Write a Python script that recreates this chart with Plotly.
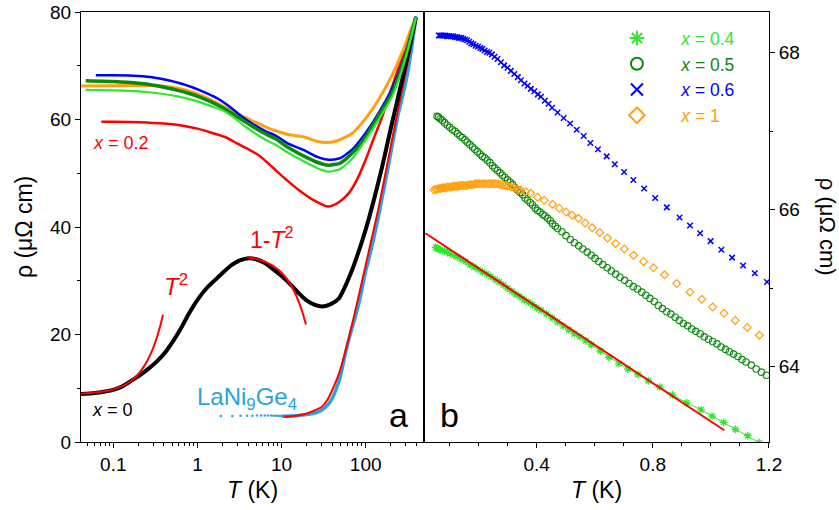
import plotly.graph_objects as go

# ---------------- panel a : rho(T), logarithmic temperature axis ----------------
T_x0 = [0.04, 0.06, 0.08, 0.1, 0.13, 0.168, 0.21, 0.265, 0.33, 0.42, 0.52, 0.66, 0.82, 1.04, 1.3,
        1.64, 2.0, 2.59, 3.2, 4.1, 5.0, 6.5, 8.0, 10.2, 13, 16, 20, 25, 30, 38, 48, 58, 69, 80,
        100, 125, 157, 200, 265, 330, 395]
rho_x0 = [8.9, 9.1, 9.4, 9.7, 10.4, 11.5, 12.5, 13.7, 15.0, 16.8, 18.9, 21.6, 24.3, 26.8, 28.7,
          30.2, 31.5, 33.0, 33.8, 34.2, 34.0, 33.2, 32.1, 30.8, 29.2, 27.7, 26.3, 25.5, 25.2, 25.6,
          26.7, 29.2, 32.0, 34.8, 39.5, 45.0, 51.2, 58.5, 66.7, 73.2, 79.0]

T_x02 = [0.072, 0.1, 0.2, 0.4, 0.7, 1.0, 1.5, 2.16, 3.0, 4.0, 5.4, 7.7, 11, 16, 24, 36, 48, 63,
         80, 100, 125, 157, 200, 248, 320, 395]
rho_x02 = [59.6, 59.58, 59.5, 59.25, 58.8, 58.3, 57.5, 56.7, 55.5, 54.5, 53.3, 51.2, 49.0, 46.9,
           45.0, 43.8, 44.6, 46.3, 49.0, 52.5, 56.5, 60.5, 65.5, 69.8, 75.0, 79.0]

T_x04 = [0.047, 0.1, 0.2, 0.4, 0.6, 0.8, 1.0, 1.2, 1.5, 2.0, 2.8, 3.7, 5.0, 6.5, 8.5, 12, 19, 27,
         36, 50, 70, 100, 140, 207, 280, 340, 395]
rho_x04 = [65.5, 65.42, 65.24, 64.75, 64.27, 63.8, 63.38, 62.95, 62.4, 61.7, 60.2, 58.7, 57.3,
           56.2, 55.3, 53.8, 52.1, 50.9, 50.3, 50.8, 52.8, 56.2, 59.8, 64.3, 70.0, 74.8, 79.0]

T_x05 = [0.047, 0.1, 0.2, 0.3, 0.4, 0.6, 0.8, 1.0, 1.2, 1.5, 2.0, 2.8, 3.7, 5.0, 6.5, 8.5, 12, 19,
         27, 36, 50, 70, 100, 140, 207, 280, 340, 395]
rho_x05 = [67.2, 67.05, 66.73, 66.38, 66.0, 65.38, 64.83, 64.33, 63.85, 63.2, 62.2, 60.8, 59.6,
           58.3, 57.3, 56.4, 54.8, 53.1, 52.0, 51.5, 51.9, 53.8, 56.8, 60.5, 65.0, 70.5, 75.0, 79.0]

T_x06 = [0.062, 0.1, 0.15, 0.2, 0.3, 0.45, 0.65, 0.9, 1.2, 1.6, 2.0, 2.6, 3.4, 4.5, 6.5, 8.5, 12,
         19, 27, 36, 50, 70, 100, 140, 207, 280, 340, 395]
rho_x06 = [68.22, 68.21, 68.18, 68.08, 67.8, 67.3, 66.65, 65.9, 65.1, 64.2, 63.3, 62.0, 60.5, 59.2,
           57.8, 57.0, 55.5, 54.2, 53.0, 52.5, 52.8, 54.5, 57.5, 61.0, 65.8, 71.0, 75.5, 79.2]

T_x1 = [0.041, 0.1, 0.22, 0.3, 0.4, 0.6, 0.8, 1.0, 1.3, 1.6, 2.0, 2.8, 3.7, 5.0, 6.5, 8.5, 12,
        19, 27, 33, 45, 69, 100, 140, 207, 280, 340, 395]
rho_x1 = [66.25, 66.29, 66.33, 66.31, 66.17, 65.75, 65.26, 64.78, 64.0, 63.3, 62.5, 61.3, 60.4,
          59.4, 58.6, 57.9, 57.2, 56.7, 55.9, 55.7, 56.0, 57.4, 60.2, 63.5, 68.3, 73.0, 76.5, 79.0]

# LaNi9Ge4: sparse low-T points, then the continuous high-T curve
T_lani_pts = [1.9, 2.6, 3.25, 3.9, 4.5, 5.1, 5.7, 6.3, 6.9, 7.5, 8.0, 8.5, 9.0, 9.5, 10.0]
rho_lani_pts = [4.85, 4.85, 4.9, 4.9, 4.9, 4.95, 4.95, 4.95, 4.95, 4.95, 4.9, 4.9, 4.9, 4.85, 4.85]
T_lani = [10, 15, 20, 25, 30, 35, 40, 45, 50, 57.5, 65, 75, 85, 100, 115, 140, 185, 240, 300, 350, 395]
rho_lani = [4.8, 4.9, 5.1, 5.4, 5.9, 6.8, 8.1, 10.0, 12.2, 16.5, 19.8, 23.2, 26.5, 31.8, 35.5, 41.5,
            51.2, 60.5, 67.0, 73.0, 79.0]

# fits drawn in red
T_fit_lani = [10.7, 15, 20, 25, 30, 35, 41, 45, 50, 57, 70.5, 85, 109, 140, 177, 230, 280, 340, 395]
rho_fit_lani = [4.7, 4.9, 5.3, 5.9, 6.5, 7.8, 10.0, 11.5, 13.5, 16.7, 22.5, 28.0, 35.5, 43.0, 51.0,
                60.0, 66.7, 73.0, 79.0]
T_fit_sq = [0.04, 0.08, 0.12, 0.16, 0.2, 0.24, 0.28, 0.32, 0.36, 0.39]
rho_fit_sq = [8.96, 9.43, 10.21, 11.31, 12.72, 14.44, 16.48, 18.84, 21.5, 23.7]
T_fit_1m = [3.9, 5, 6, 7, 8, 10, 12, 14, 16, 18, 19.5]
rho_fit_1m = [34.4, 34.06, 33.68, 33.23, 32.72, 31.48, 29.97, 28.18, 26.11, 23.77, 21.84]

# ---------------- panel b : rho(T), linear temperature axis ----------------
Tb_x04 = [0.052, 0.057, 0.062, 0.068, 0.075, 0.083, 0.092, 0.102, 0.114, 0.127, 0.140, 0.155, 0.170,
          0.184, 0.198, 0.213, 0.228, 0.242, 0.257, 0.271, 0.286, 0.300, 0.315, 0.329, 0.343, 0.357,
          0.372, 0.386, 0.400, 0.415, 0.434, 0.453, 0.472, 0.491, 0.511, 0.530, 0.549, 0.569, 0.588,
          0.620, 0.649, 0.683, 0.714, 0.749, 0.785, 0.824, 0.868, 0.916, 0.966, 1.004, 1.044, 1.084,
          1.127, 1.167]
rhob_x04 = [65.52, 65.51, 65.50, 65.49, 65.48, 65.47, 65.46, 65.44, 65.42, 65.40, 65.37, 65.34, 65.30,
            65.27, 65.24, 65.21, 65.18, 65.15, 65.11, 65.08, 65.04, 65.00, 64.96, 64.92, 64.89, 64.85,
            64.82, 64.79, 64.75, 64.72, 64.67, 64.62, 64.57, 64.52, 64.47, 64.42, 64.38, 64.33, 64.28,
            64.20, 64.12, 64.04, 63.97, 63.90, 63.82, 63.74, 63.64, 63.54, 63.45, 63.37, 63.29, 63.20,
            63.12, 63.03]

Tb_x05 = [0.057, 0.062, 0.068, 0.075, 0.083, 0.092, 0.101, 0.110, 0.119, 0.127, 0.136, 0.144, 0.153,
          0.161, 0.170, 0.179, 0.187, 0.196, 0.205, 0.213, 0.222, 0.230, 0.239, 0.248, 0.256, 0.265,
          0.274, 0.282, 0.291, 0.300, 0.309, 0.317, 0.326, 0.334, 0.343, 0.352, 0.360, 0.369, 0.378,
          0.386, 0.395, 0.403, 0.412, 0.421, 0.429, 0.438, 0.447, 0.455, 0.464, 0.472, 0.487, 0.501,
          0.516, 0.530, 0.545, 0.559, 0.574, 0.588, 0.601, 0.614, 0.628, 0.643, 0.657, 0.672, 0.687,
          0.703, 0.718, 0.733, 0.747, 0.762, 0.776, 0.790, 0.805, 0.819, 0.833, 0.848, 0.862, 0.877,
          0.891, 0.905, 0.920, 0.934, 0.948, 0.963, 0.977, 0.992, 1.006, 1.021, 1.035, 1.050, 1.064,
          1.078, 1.093, 1.107, 1.121, 1.139, 1.156, 1.174, 1.191]
rhob_x05 = [67.19, 67.18, 67.16, 67.14, 67.11, 67.08, 67.05, 67.02, 67.00, 66.97, 66.94, 66.92, 66.89,
            66.86, 66.83, 66.80, 66.77, 66.74, 66.71, 66.68, 66.66, 66.63, 66.60, 66.56, 66.53, 66.50,
            66.47, 66.44, 66.41, 66.38, 66.35, 66.32, 66.28, 66.25, 66.22, 66.19, 66.15, 66.12, 66.09,
            66.06, 66.02, 65.99, 65.97, 65.94, 65.92, 65.89, 65.86, 65.82, 65.79, 65.76, 65.72, 65.67,
            65.62, 65.58, 65.54, 65.50, 65.46, 65.42, 65.38, 65.34, 65.30, 65.26, 65.22, 65.18, 65.14,
            65.10, 65.06, 65.02, 64.99, 64.95, 64.91, 64.87, 64.83, 64.78, 64.74, 64.70, 64.67, 64.63,
            64.59, 64.55, 64.52, 64.48, 64.45, 64.42, 64.38, 64.35, 64.32, 64.29, 64.25, 64.22, 64.19,
            64.16, 64.13, 64.09, 64.06, 64.02, 63.97, 63.93, 63.89]

Tb_x06 = [0.063, 0.068, 0.074, 0.080, 0.086, 0.092, 0.098, 0.105, 0.112, 0.119, 0.126, 0.133, 0.140,
          0.147, 0.154, 0.161, 0.168, 0.175, 0.182, 0.190, 0.198, 0.206, 0.213, 0.221, 0.229, 0.237,
          0.246, 0.255, 0.265, 0.277, 0.288, 0.300, 0.311, 0.323, 0.335, 0.346, 0.358, 0.369, 0.380,
          0.392, 0.404, 0.415, 0.428, 0.441, 0.453, 0.472, 0.493, 0.515, 0.538, 0.562, 0.585, 0.611,
          0.641, 0.669, 0.701, 0.733, 0.770, 0.808, 0.848, 0.892, 0.928, 0.963, 0.999, 1.036, 1.073,
          1.111, 1.151, 1.193]
rhob_x06 = [68.22, 68.22, 68.22, 68.22, 68.22, 68.21, 68.21, 68.21, 68.21, 68.20, 68.20, 68.19, 68.19,
            68.18, 68.17, 68.16, 68.14, 68.12, 68.11, 68.09, 68.08, 68.06, 68.05, 68.03, 68.01, 68.00,
            67.98, 67.95, 67.92, 67.88, 67.84, 67.81, 67.77, 67.73, 67.69, 67.65, 67.61, 67.58, 67.54,
            67.51, 67.47, 67.44, 67.39, 67.35, 67.30, 67.24, 67.17, 67.10, 67.02, 66.94, 66.85, 66.77,
            66.68, 66.58, 66.48, 66.38, 66.27, 66.15, 66.03, 65.90, 65.80, 65.70, 65.60, 65.49, 65.39,
            65.29, 65.19, 65.08]

Tb_x1 = [0.046, 0.052, 0.058, 0.064, 0.070, 0.076, 0.082, 0.088, 0.094, 0.100, 0.106, 0.112, 0.118,
         0.124, 0.130, 0.136, 0.142, 0.148, 0.154, 0.160, 0.167, 0.174, 0.181, 0.188, 0.195, 0.202,
         0.210, 0.218, 0.226, 0.234, 0.242, 0.250, 0.258, 0.266, 0.274, 0.283, 0.292, 0.301, 0.311,
         0.322, 0.334, 0.346, 0.363, 0.380, 0.403, 0.426, 0.455, 0.478, 0.501, 0.522, 0.544, 0.567,
         0.591, 0.617, 0.644, 0.672, 0.702, 0.734, 0.768, 0.802, 0.840, 0.882, 0.928, 0.969, 1.006,
         1.045, 1.084, 1.125, 1.167]
rhob_x1 = [66.25, 66.26, 66.26, 66.27, 66.27, 66.28, 66.28, 66.28, 66.29, 66.29, 66.29, 66.30, 66.30,
           66.30, 66.30, 66.31, 66.31, 66.31, 66.31, 66.31, 66.32, 66.32, 66.32, 66.33, 66.33, 66.33,
           66.33, 66.33, 66.33, 66.33, 66.33, 66.33, 66.33, 66.33, 66.32, 66.32, 66.31, 66.30, 66.29,
           66.28, 66.26, 66.25, 66.23, 66.21, 66.16, 66.12, 66.07, 66.02, 65.97, 65.93, 65.89, 65.83,
           65.77, 65.71, 65.64, 65.57, 65.50, 65.42, 65.34, 65.26, 65.17, 65.06, 64.95, 64.86, 64.76,
           64.68, 64.59, 64.50, 64.40]

# linear fit through the x = 0.4 data
Tb_fit = [0.017, 1.046]
rhob_fit = [65.70, 63.19]

RED = "#ff0000"
BLACK = "#000000"
BLUE = "#0000ff"
DGREEN = "#0a8a0a"
LGREEN = "#2ee82e"
ORANGE = "#ffa010"
LBLUE = "#2aa4dc"
FONT = "Liberation Sans, Arial, Helvetica, sans-serif"

fig = go.Figure()


def curve_a(T, rho, color, width, shape="spline"):
    fig.add_trace(go.Scatter(x=T, y=rho, mode="lines", xaxis="x", yaxis="y",
                             line=dict(color=color, width=width, shape=shape, smoothing=0.6),
                             showlegend=False, hoverinfo="skip"))


# panel a
fig.add_trace(go.Scatter(x=T_lani_pts, y=rho_lani_pts, mode="markers", xaxis="x", yaxis="y",
                         marker=dict(color=LBLUE, size=2.5), showlegend=False))
curve_a(T_lani, rho_lani, LBLUE, 3.5)
curve_a(T_fit_lani, rho_fit_lani, RED, 2)
curve_a(T_x0, rho_x0, BLACK, 4)
curve_a(T_fit_sq, rho_fit_sq, RED, 2)
curve_a(T_fit_1m, rho_fit_1m, RED, 2)
curve_a(T_x02, rho_x02, RED, 2.5)
curve_a(T_x1, rho_x1, ORANGE, 3)
curve_a(T_x06, rho_x06, BLUE, 2.5)
curve_a(T_x05, rho_x05, DGREEN, 3.5)
curve_a(T_x04, rho_x04, LGREEN, 2.2)


# panel b
GAP = "\u00a0" * 5


def legend_name(color, label):
    return f"<span style='color:{color}'>{GAP}<i>x</i> = {label}</span>"


fig.add_trace(go.Scatter(x=Tb_x04, y=rhob_x04, mode="lines", xaxis="x2", yaxis="y2",
                         line=dict(color=LGREEN, width=1), showlegend=False))
fig.add_trace(go.Scatter(x=Tb_x04, y=rhob_x04, mode="markers", xaxis="x2", yaxis="y2",
                         name=legend_name(LGREEN, "0.4"),
                         marker=dict(symbol="asterisk-open", size=6.5, color=LGREEN,
                                     line=dict(color=LGREEN, width=1.3))))
fig.add_trace(go.Scatter(x=Tb_x05, y=rhob_x05, mode="markers", xaxis="x2", yaxis="y2",
                         name=legend_name(DGREEN, "0.5"),
                         marker=dict(symbol="circle-open", size=6.5, color=DGREEN,
                                     line=dict(color=DGREEN, width=1.1))))
fig.add_trace(go.Scatter(x=Tb_x06, y=rhob_x06, mode="markers", xaxis="x2", yaxis="y2",
                         name=legend_name(BLUE, "0.6"),
                         marker=dict(symbol="x-thin-open", size=5.5, color=BLUE,
                                     line=dict(color=BLUE, width=1.5))))
fig.add_trace(go.Scatter(x=Tb_x1, y=rhob_x1, mode="markers", xaxis="x2", yaxis="y2",
                         name=legend_name(ORANGE, "1"),
                         marker=dict(symbol="diamond-open", size=6, color=ORANGE,
                                     line=dict(color=ORANGE, width=1.2))))
fig.add_trace(go.Scatter(x=Tb_fit, y=rhob_fit, mode="lines", xaxis="x2", yaxis="y2",
                         line=dict(color=RED, width=2), showlegend=False))

log_minor = [k * 10.0 ** e for e in range(-2, 3) for k in range(2, 10)]

axis_common = dict(showline=True, linecolor="black", linewidth=1, mirror=True,
                   ticks="outside", ticklen=5, tickwidth=1, tickcolor="black",
                   showgrid=False, zeroline=False, automargin=False,
                   tickfont=dict(family=FONT, size=19, color="black"))

fig.update_layout(
    width=839, height=510,
    margin=dict(l=81, r=70, t=12, b=68, autoexpand=False),
    paper_bgcolor="white", plot_bgcolor="white",
    font=dict(family=FONT, color="black"),
    xaxis=dict(type="log", domain=[0, 0.4985], range=[-1.384, 2.693], anchor="y",
               tickvals=[0.1, 1, 10, 100], ticktext=["0.1", "1", "10", "100"],
               minor=dict(tickvals=log_minor, ticks="outside", ticklen=3, tickcolor="black",
                          showgrid=False),
               **axis_common),
    yaxis=dict(domain=[0, 1], range=[0, 80], anchor="x", dtick=20, tick0=0,
               minor=dict(dtick=10, tick0=0, ticks="outside", ticklen=3, tickcolor="black",
                          showgrid=False),
               **axis_common),
    xaxis2=dict(domain=[0.4985, 1], range=[0.012, 1.2], anchor="y2", dtick=0.4, tick0=0,
                minor=dict(dtick=0.1, tick0=0, ticks="outside", ticklen=3, tickcolor="black",
                           showgrid=False),
                **axis_common),
    yaxis2=dict(domain=[0, 1], range=[63.04, 68.52], anchor="x2", side="right", dtick=2, tick0=0,
                minor=dict(dtick=1, tick0=0, ticks="outside", ticklen=3, tickcolor="black",
                           showgrid=False),
                **axis_common),
    legend=dict(x=0.779, y=0.981, xanchor="left", yanchor="top", bgcolor="rgba(0,0,0,0)",
                font=dict(family=FONT, size=17.5), itemsizing="constant", itemwidth=30,
                tracegroupgap=0),
    showlegend=True,
)

ann = [
    dict(text="<i>x</i> = 0.2", x=0.0581, y=0.695, color=RED, size=18),
    dict(text="1-<i>T</i><sup>2</sup>", x=0.2776, y=0.475, color=RED, size=23),
    dict(text="<i>T</i><sup>2</sup>", x=0.138, y=0.365, color=RED, size=24),
    dict(text="LaNi<sub>9</sub>Ge<sub>4</sub>", x=0.241, y=0.102, color=LBLUE, size=24),
    dict(text="<i>x</i> = 0", x=0.0465, y=0.0744, color=BLACK, size=18),
    dict(text="a", x=0.462, y=0.062, color=BLACK, size=34),
    dict(text="b", x=0.535, y=0.062, color=BLACK, size=34),
    dict(text="<i>T</i> (K)", x=0.2494, y=-0.1116, color=BLACK, size=23),
    dict(text="<i>T</i> (K)", x=0.749, y=-0.1116, color=BLACK, size=23),
]
for a in ann:
    fig.add_annotation(text=a["text"], x=a["x"], y=a["y"], xref="paper", yref="paper",
                       xanchor="center", yanchor="middle", showarrow=False,
                       font=dict(family=FONT, size=a["size"], color=a["color"]))

fig.add_annotation(text="ρ (μΩ cm)", x=-0.0828, y=0.5, xref="paper", yref="paper",
                   textangle=-90, showarrow=False, xanchor="center", yanchor="middle",
                   font=dict(family=FONT, size=23, color="black"))
fig.add_annotation(text="ρ (μΩ cm)", x=1.086, y=0.5, xref="paper", yref="paper",
                   textangle=90, showarrow=False, xanchor="center", yanchor="middle",
                   font=dict(family=FONT, size=22, color="black"))

fig.write_html("out.html")
